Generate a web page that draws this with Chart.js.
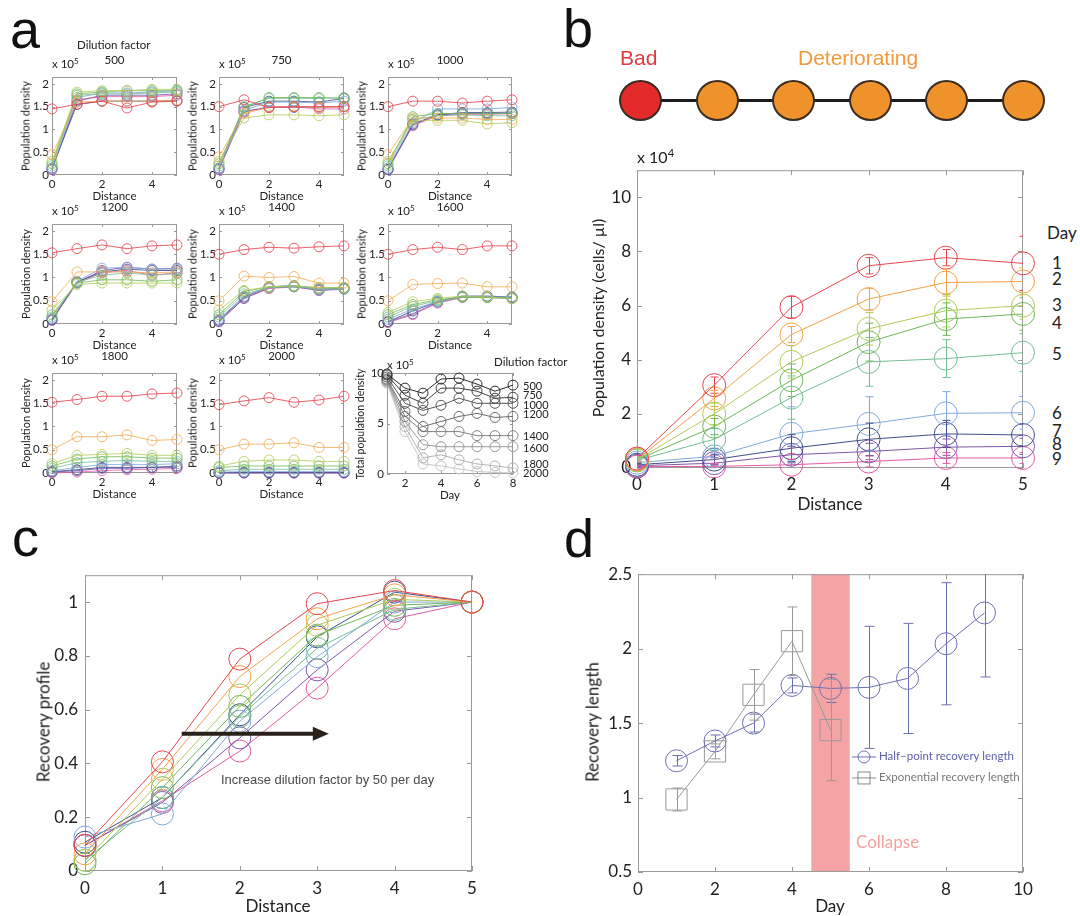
<!DOCTYPE html>
<html>
<head>
<meta charset="utf-8">
<script src="https://cdn.jsdelivr.net/npm/chart.js@4.4.1/dist/chart.umd.min.js"></script>
<style>
body{margin:0;background:#fff;width:1080px;height:916px;position:relative;overflow:hidden;font-family:Lato,sans-serif;color:#222}
canvas{position:absolute}
.t{position:absolute;white-space:nowrap;line-height:1}
.ctr{transform:translate(-50%,-50%)}
.lft{transform:translate(0,-50%)}
.rot{transform:translate(-50%,-50%) rotate(-90deg)}
.letter{font-family:"Liberation Sans",Arial,sans-serif;font-size:54px;color:#111}
sup{font-size:70%;vertical-align:0.55em;line-height:0}
.chain{position:absolute;left:619px;top:80px;width:426px;height:40px;display:flex;justify-content:space-between;align-items:center}
.chain:before{content:"";position:absolute;left:21px;right:21px;top:19px;height:3px;background:#1b1b1b}
.node{position:relative;width:39px;height:37px;border-radius:50%;border:2px solid #3a2c20;background:#f0922b}
.node.bad{background:#e32b2b}
</style>
</head>
<body>
<script>
// ---- data ----
const distance = [0, 1, 2, 3, 4, 5];
const dilutions = [500, 750, 1000, 1200, 1400, 1600, 1800, 2000];
const days = ['1', '2', '3', '4', '5', '6', '7', '8', '9'];
const dayColors = ['#e8454f', '#f3a246', '#b0cb58', '#6fb656', '#72bf96', '#82a8da', '#3f4d8e', '#7f57aa', '#e35aa6'];
const dayColorsA = ['rgba(232,69,79,0.85)', 'rgba(243,170,80,0.8)', 'rgba(176,203,88,0.8)', 'rgba(111,182,86,0.8)', 'rgba(114,191,150,0.8)', 'rgba(130,168,218,0.85)', 'rgba(63,77,142,0.85)', 'rgba(127,87,170,0.85)', 'rgba(227,90,166,0.8)'];

// panel a: population density (x 10^5), one row per day
const a500 = [
  [1.45, 1.55, 1.62, 1.47, 1.60, 1.62],
  [0.45, 1.60, 1.62, 1.62, 1.62, 1.65],
  [0.30, 1.82, 1.85, 1.85, 1.88, 1.88],
  [0.25, 1.78, 1.82, 1.85, 1.85, 1.85],
  [0.20, 1.75, 1.78, 1.78, 1.80, 1.82],
  [0.15, 1.70, 1.80, 1.80, 1.82, 1.85],
  [0.15, 1.55, 1.62, 1.62, 1.62, 1.63],
  [0.12, 1.62, 1.75, 1.75, 1.75, 1.78],
  [0.12, 1.65, 1.72, 1.72, 1.72, 1.75]
];
const a750 = [
  [1.50, 1.65, 1.48, 1.50, 1.50, 1.50],
  [0.40, 1.35, 1.48, 1.50, 1.48, 1.50],
  [0.30, 1.25, 1.32, 1.32, 1.30, 1.32],
  [0.25, 1.48, 1.70, 1.70, 1.70, 1.68],
  [0.20, 1.50, 1.68, 1.68, 1.68, 1.70],
  [0.15, 1.42, 1.60, 1.60, 1.58, 1.62],
  [0.15, 1.48, 1.62, 1.62, 1.60, 1.68],
  [0.12, 1.40, 1.48, 1.48, 1.48, 1.50],
  [0.12, 1.38, 1.50, 1.50, 1.45, 1.45]
];
const a1000 = [
  [1.50, 1.62, 1.62, 1.58, 1.62, 1.65],
  [0.45, 1.25, 1.25, 1.25, 1.22, 1.22],
  [0.30, 1.20, 1.20, 1.20, 1.12, 1.15],
  [0.25, 1.28, 1.35, 1.35, 1.35, 1.35],
  [0.20, 1.22, 1.30, 1.32, 1.30, 1.30],
  [0.15, 1.15, 1.45, 1.45, 1.45, 1.48],
  [0.12, 1.12, 1.32, 1.37, 1.37, 1.38],
  [0.12, 1.10, 1.32, 1.35, 1.35, 1.35],
  [0.12, 1.08, 1.30, 1.33, 1.33, 1.35]
];
const a1200 = [
  [1.53, 1.62, 1.70, 1.62, 1.68, 1.70],
  [0.48, 1.12, 1.12, 1.12, 1.10, 1.12],
  [0.30, 0.85, 0.88, 0.88, 0.88, 0.88],
  [0.20, 0.88, 0.95, 0.95, 0.92, 0.95],
  [0.15, 0.90, 1.05, 1.10, 1.05, 1.08],
  [0.12, 0.92, 1.20, 1.22, 1.18, 1.18],
  [0.10, 0.90, 1.12, 1.18, 1.15, 1.15],
  [0.08, 0.90, 1.15, 1.22, 1.18, 1.20],
  [0.08, 0.88, 1.10, 1.15, 1.05, 1.10]
];
const a1400 = [
  [1.50, 1.60, 1.65, 1.63, 1.66, 1.68],
  [0.50, 1.03, 1.00, 1.02, 0.88, 0.88],
  [0.30, 0.72, 0.80, 0.82, 0.78, 0.78],
  [0.20, 0.70, 0.80, 0.82, 0.78, 0.78],
  [0.15, 0.65, 0.78, 0.80, 0.75, 0.75],
  [0.10, 0.60, 0.80, 0.82, 0.75, 0.78],
  [0.08, 0.58, 0.80, 0.82, 0.75, 0.78],
  [0.05, 0.55, 0.78, 0.80, 0.72, 0.75],
  [0.05, 0.55, 0.76, 0.80, 0.73, 0.76]
];
const a1600 = [
  [1.50, 1.60, 1.65, 1.60, 1.68, 1.68],
  [0.50, 0.85, 0.87, 0.88, 0.80, 0.80],
  [0.25, 0.48, 0.55, 0.60, 0.58, 0.55],
  [0.20, 0.42, 0.52, 0.58, 0.57, 0.55],
  [0.15, 0.38, 0.50, 0.58, 0.57, 0.55],
  [0.10, 0.32, 0.48, 0.58, 0.58, 0.58],
  [0.05, 0.28, 0.48, 0.60, 0.60, 0.58],
  [0.05, 0.22, 0.47, 0.58, 0.58, 0.57],
  [0.03, 0.20, 0.45, 0.57, 0.57, 0.55]
];
const a1800 = [
  [1.52, 1.58, 1.65, 1.65, 1.70, 1.72],
  [0.50, 0.78, 0.78, 0.82, 0.70, 0.72],
  [0.20, 0.38, 0.40, 0.42, 0.38, 0.38],
  [0.15, 0.30, 0.35, 0.35, 0.32, 0.32],
  [0.10, 0.22, 0.25, 0.27, 0.25, 0.25],
  [0.05, 0.12, 0.18, 0.18, 0.18, 0.20],
  [0.03, 0.07, 0.12, 0.12, 0.12, 0.15],
  [0.02, 0.05, 0.10, 0.10, 0.12, 0.12],
  [0.00, 0.02, 0.05, 0.07, 0.08, 0.10]
];
const a2000 = [
  [1.47, 1.55, 1.62, 1.52, 1.57, 1.65],
  [0.50, 0.62, 0.62, 0.65, 0.55, 0.55],
  [0.15, 0.25, 0.28, 0.28, 0.25, 0.25],
  [0.12, 0.15, 0.15, 0.15, 0.15, 0.15],
  [0.05, 0.08, 0.08, 0.08, 0.08, 0.08],
  [0.02, 0.03, 0.03, 0.03, 0.03, 0.03],
  [0.01, 0.01, 0.01, 0.01, 0.01, 0.01],
  [0.00, 0.00, 0.00, 0.00, 0.00, 0.00],
  [0.00, 0.00, 0.00, 0.00, 0.00, 0.00]
];
const xTicksA = [0, 2, 4];
const yTicksA = [0, 0.5, 1, 1.5, 2];

// panel a, last plot: total population density (x 10^5) per dilution factor
const totalDays = [1, 2, 3, 4, 5, 6, 7, 8];
const totalDensity = [
  [9.9, 8.5, 8.0, 9.4, 9.5, 8.9, 8.2, 8.8],
  [9.8, 7.8, 7.0, 8.5, 8.5, 8.2, 7.5, 7.6],
  [9.6, 7.0, 6.3, 6.8, 7.5, 7.0, 7.0, 7.0],
  [9.4, 6.2, 4.7, 5.2, 5.7, 6.0, 5.6, 5.7],
  [9.3, 5.7, 4.2, 4.2, 4.2, 3.8, 3.8, 3.8],
  [9.2, 5.2, 2.9, 2.7, 2.7, 2.7, 2.7, 2.7],
  [9.1, 4.7, 1.6, 1.9, 1.4, 1.0, 0.8, 0.6],
  [9.0, 4.2, 1.0, 0.8, 0.5, 0.25, 0.15, 0.1]
];
const totalGrays = ['#2b2b2b', '#424242', '#575757', '#6c6c6c', '#838383', '#9a9a9a', '#b2b2b2', '#c8c8c8'];
const xTicksTotal = [2, 4, 6, 8];
const yTicksTotal = [0, 5, 10];

// panel b: population density (x 10^4 cells/ul) per day, with error bars
const bDensity = [
  [0.35, 3.06, 5.94, 7.47, 7.77, 7.56],
  [0.32, 2.57, 4.93, 6.24, 6.85, 6.89],
  [0.30, 2.00, 3.92, 5.14, 5.81, 6.00],
  [0.30, 1.53, 3.24, 4.65, 5.50, 5.69],
  [0.28, 1.06, 2.60, 3.92, 4.04, 4.26],
  [0.20, 0.43, 1.26, 1.63, 2.02, 2.04],
  [0.12, 0.31, 0.73, 1.06, 1.26, 1.22],
  [0.08, 0.18, 0.49, 0.61, 0.77, 0.80],
  [0.05, 0.06, 0.12, 0.24, 0.37, 0.37]
];
const bError = [
  [0.1, 0.3, 0.4, 0.3, 0.3, 1.0],
  [0.1, 0.3, 0.3, 0.4, 0.5, 0.5],
  [0.1, 0.4, 0.6, 0.6, 0.6, 0.5],
  [0.1, 0.3, 0.6, 0.7, 0.6, 0.6],
  [0.1, 0.4, 0.8, 0.9, 0.7, 0.7],
  [0.1, 0.3, 1.0, 1.0, 0.8, 0.6],
  [0.05, 0.2, 0.5, 0.6, 0.5, 0.4],
  [0.05, 0.2, 0.3, 0.3, 0.3, 0.3],
  [0.05, 0.1, 0.2, 0.2, 0.2, 0.2]
];
const xTicksB = [0, 1, 2, 3, 4, 5];
const yTicksB = [0, 2, 4, 6, 8, 10];

// panel c: recovery profile per day
const recovery = [
  [0.095, 0.406, 0.788, 0.994, 1.043, 1.0],
  [0.064, 0.378, 0.723, 0.938, 1.027, 1.0],
  [0.040, 0.341, 0.655, 0.914, 1.010, 1.0],
  [0.027, 0.310, 0.612, 0.877, 0.988, 1.0],
  [0.040, 0.273, 0.575, 0.828, 0.973, 1.0],
  [0.126, 0.212, 0.557, 0.797, 1.000, 1.0],
  [0.107, 0.273, 0.581, 0.871, 1.037, 1.0],
  [0.095, 0.255, 0.495, 0.748, 0.966, 1.0],
  [0.095, 0.261, 0.446, 0.680, 0.938, 1.0]
];
const yTicksC = [0, 0.2, 0.4, 0.6, 0.8, 1];
const arrowFrom = [1.25, 0.51];
const arrowTo = [3.15, 0.51];

// panel d: recovery length per day
const halfDays = [1, 2, 3, 4, 5, 6, 7, 8, 9];
const halfLength = [1.247, 1.38, 1.50, 1.753, 1.733, 1.74, 1.80, 2.033, 2.24];
const halfError = [0.035, 0.04, 0.06, 0.05, 0.095, 0.41, 0.37, 0.41, 0.43];
const expDays = [1, 2, 3, 4, 5];
const expLength = [0.987, 1.31, 1.69, 2.05, 1.453];
const expError = [0.077, 0.05, 0.17, 0.23, 0.34];
const collapseSpan = [4.5, 5.5];
const xTicksD = [0, 2, 4, 6, 8, 10];
const yTicksD = [0.5, 1, 1.5, 2, 2.5];

// ---- plugins ----
const boxPlugin = {
  id: 'mbox',
  beforeDatasetsDraw(chart, args, opts) {
    const {ctx, chartArea: a, scales} = chart;
    const tl = opts.tick || 4;
    ctx.save();
    ctx.strokeStyle = '#9a9a9a';
    ctx.lineWidth = 1;
    ctx.strokeRect(a.left + 0.5, a.top + 0.5, a.width - 1, a.height - 1);
    ctx.beginPath();
    scales.x.ticks.forEach(t => {
      const p = Math.round(scales.x.getPixelForValue(t.value)) + 0.5;
      ctx.moveTo(p, a.bottom); ctx.lineTo(p, a.bottom - tl);
      ctx.moveTo(p, a.top); ctx.lineTo(p, a.top + tl);
    });
    scales.y.ticks.forEach(t => {
      const p = Math.round(scales.y.getPixelForValue(t.value)) + 0.5;
      ctx.moveTo(a.left, p); ctx.lineTo(a.left + tl, p);
      ctx.moveTo(a.right, p); ctx.lineTo(a.right - tl, p);
    });
    ctx.stroke();
    ctx.restore();
  }
};

const errPlugin = {
  id: 'errbars',
  afterDatasetsDraw(chart, args, opts) {
    const {ctx, chartArea: a} = chart;
    const ys = chart.scales.y;
    const cap = opts.cap || 4;
    ctx.save();
    ctx.beginPath();
    ctx.rect(a.left, a.top, a.width, a.height);
    ctx.clip();
    chart.data.datasets.forEach((ds, i) => {
      if (!ds.errs) return;
      const meta = chart.getDatasetMeta(i);
      ctx.strokeStyle = ds.borderColor;
      ctx.lineWidth = 1;
      ctx.beginPath();
      meta.data.forEach((pt, j) => {
        const e = ds.errs[j];
        if (!e) return;
        const v = ds.data[j].y;
        const y1 = ys.getPixelForValue(v - e), y2 = ys.getPixelForValue(v + e);
        const x = Math.round(pt.x) + 0.5;
        ctx.moveTo(x, y1); ctx.lineTo(x, y2);
        ctx.moveTo(x - cap, y1); ctx.lineTo(x + cap, y1);
        ctx.moveTo(x - cap, y2); ctx.lineTo(x + cap, y2);
      });
      ctx.stroke();
    });
    ctx.restore();
  }
};

const arrowPlugin = {
  id: 'arrow',
  afterDatasetsDraw(chart, args, opts) {
    if (!opts || !opts.from) return;
    const {ctx, scales} = chart;
    const x1 = scales.x.getPixelForValue(opts.from[0]), y1 = scales.y.getPixelForValue(opts.from[1]);
    const x2 = scales.x.getPixelForValue(opts.to[0]), y2 = scales.y.getPixelForValue(opts.to[1]);
    ctx.save();
    ctx.strokeStyle = ctx.fillStyle = '#2a211b';
    ctx.lineWidth = 4;
    ctx.beginPath(); ctx.moveTo(x1, y1); ctx.lineTo(x2 - 14, y2); ctx.stroke();
    ctx.beginPath(); ctx.moveTo(x2, y2); ctx.lineTo(x2 - 16, y2 - 7); ctx.lineTo(x2 - 16, y2 + 7); ctx.closePath(); ctx.fill();
    ctx.restore();
  }
};

const bandPlugin = {
  id: 'band',
  beforeDatasetsDraw(chart, args, opts) {
    if (!opts || !opts.span) return;
    const {ctx, chartArea: a, scales} = chart;
    const x1 = scales.x.getPixelForValue(opts.span[0]), x2 = scales.x.getPixelForValue(opts.span[1]);
    ctx.save();
    ctx.fillStyle = '#f4a4a4';
    ctx.fillRect(x1, a.top, x2 - x1, a.height);
    ctx.restore();
  }
};

// ---- helpers ----
function series(xs, ys, color, r, style, errs) {
  return {
    data: xs.map((x, i) => ({x: x, y: ys[i]})),
    borderColor: color, backgroundColor: 'rgba(0,0,0,0)', borderWidth: 1,
    pointRadius: r, pointBorderWidth: 1, pointStyle: style || 'circle',
    pointBorderColor: color, pointBackgroundColor: 'rgba(0,0,0,0)',
    tension: 0, clip: false, errs: errs
  };
}

function axis(spec, dir, size) {
  return {
    type: 'linear', min: spec.min, max: spec.max,
    grid: {display: false, drawTicks: false}, border: {display: false},
    ticks: {
      font: {family: 'Lato', size: spec.font}, color: '#222', padding: spec.pad,
      maxRotation: 0, autoSkip: false, includeBounds: false,
      callback: v => String(+v.toFixed(2))
    },
    afterBuildTicks: s => { s.ticks = spec.ticks.map(v => ({value: v})); },
    afterFit: s => { if (dir === 'x') s.height = size; else s.width = size; }
  };
}

// box = [left, top, right, bottom] of the plot area; pad = [left, top, right, bottom]
function plot(box, pad, datasets, xs, ys, extra) {
  const c = document.createElement('canvas');
  const w = box[2] - box[0] + pad[0] + pad[2], h = box[3] - box[1] + pad[1] + pad[3];
  c.width = w; c.height = h;
  c.style.left = (box[0] - pad[0]) + 'px'; c.style.top = (box[1] - pad[1]) + 'px';
  c.style.width = w + 'px'; c.style.height = h + 'px';
  document.body.appendChild(c);
  return new Chart(c, {
    type: 'line',
    data: {datasets: datasets},
    options: {
      responsive: false, animation: false, devicePixelRatio: 1,
      layout: {padding: {left: 0, top: pad[1], right: pad[2], bottom: 0}},
      plugins: Object.assign({legend: {display: false}, tooltip: {enabled: false}}, extra || {}),
      scales: {x: axis(xs, 'x', pad[3]), y: axis(ys, 'y', pad[0])}
    },
    plugins: [bandPlugin, boxPlugin, errPlugin, arrowPlugin]
  });
}

function txt(html, x, y, css, cls) {
  const d = document.createElement('div');
  d.className = 't ' + (cls || 'ctr');
  d.innerHTML = html;
  d.style.left = x + 'px'; d.style.top = y + 'px';
  if (css) d.style.cssText += css;
  document.body.appendChild(d);
  return d;
}

// ---- panel a ----
const colsA = [[52, 177], [219, 344], [388, 512]];
const rowsA = [[77, 175], [224, 324], [373, 473]];
const subsA = [a500, a750, a1000, a1200, a1400, a1600, a1800, a2000];
const fA = 'font-size:11.5px;';
subsA.forEach((sub, k) => {
  const col = colsA[k % 3], row = rowsA[Math.floor(k / 3)];
  const box = [col[0], row[0], col[1], row[1]];
  plot(box, [30, 12, 12, 16],
    sub.map((vals, d) => series(distance, vals, dayColorsA[d], 5)),
    {min: 0, max: 5, ticks: xTicksA, font: 11.5, pad: 2},
    {min: 0, max: 2.15, ticks: yTicksA, font: 11.5, pad: 3},
    {mbox: {tick: 3}});
  const cx = (box[0] + box[2]) / 2, cy = (box[1] + box[3]) / 2;
  txt(String(dilutions[k]), cx, box[1] - 17, fA);
  txt('x 10<sup>5</sup>', box[0], box[1] - 13, fA, 'lft');
  txt('Distance', cx, box[3] + 21, fA);
  txt('Population density', box[0] - 27, cy, 'font-size:11px;', 'rot');
});
(function () {
  const box = [387, 373, 513, 474];
  plot(box, [30, 12, 12, 16],
    totalDensity.map((vals, k) => series(totalDays, vals, totalGrays[k], 5)),
    {min: 1, max: 8, ticks: xTicksTotal, font: 11.5, pad: 2},
    {min: 0, max: 10, ticks: yTicksTotal, font: 11.5, pad: 3},
    {mbox: {tick: 3}});
  txt('x 10<sup>5</sup>', box[0], box[1] - 8, fA, 'lft');
  txt('Day', (box[0] + box[2]) / 2, box[3] + 21, fA);
  txt('Total population density', box[0] - 27, (box[1] + box[3]) / 2, 'font-size:10.5px;', 'rot');
  txt('Dilution factor', 494, 362, fA, 'lft');
  const labelY = [385, 394, 404, 413, 435, 447, 463, 472];
  dilutions.forEach((d, k) => txt(String(d), 523, labelY[k], 'font-size:11px;', 'lft'));
})();
txt('a', 10, 2, '', 'letter');
txt('Dilution factor', 77, 45, fA, 'lft');

// ---- panel b ----
txt('b', 563, 1, '', 'letter');
txt('Bad', 620, 57, 'font-family:"Liberation Sans",Arial,sans-serif;font-size:21px;color:#e13b3f;', 'lft');
txt('Deteriorating', 798, 57, 'font-family:"Liberation Sans",Arial,sans-serif;font-size:21px;color:#f2993c;', 'lft');
(function () {
  const chain = document.createElement('div');
  chain.className = 'chain';
  for (let i = 0; i < 6; i++) {
    const n = document.createElement('div');
    n.className = 'node' + (i === 0 ? ' bad' : '');
    chain.appendChild(n);
  }
  document.body.appendChild(chain);
})();
(function () {
  const box = [637, 168, 1023, 468];
  plot(box, [40, 14, 24, 30],
    bDensity.map((vals, d) => series(distance, vals, dayColors[d], 11.5, 'circle', bError[d])),
    {min: 0, max: 5, ticks: xTicksB, font: 17, pad: 6},
    {min: 0, max: 11, ticks: yTicksB, font: 17, pad: 6},
    {mbox: {tick: 5}, errbars: {cap: 4}});
  txt('x 10<sup>4</sup>', 637, 157, 'font-size:16px;', 'lft');
  txt('Population density (cells/ µl)', 598, 318, 'font-size:16px;', 'rot');
  txt('Distance', 830, 503, 'font-size:17px;');
  txt('Day', 1047, 232, 'font-size:17px;', 'lft');
  const dayY = [262, 278, 304, 322, 353, 412, 430, 443, 458];
  days.forEach((d, k) => txt(d, 1052, dayY[k], 'font-size:17px;', 'lft'));
})();

// ---- panel c ----
txt('c', 12, 510, '', 'letter');
(function () {
  const box = [85, 572, 472, 871];
  plot(box, [40, 14, 24, 30],
    recovery.map((vals, d) => series(distance, vals, dayColors[d], 11)),
    {min: 0, max: 5, ticks: xTicksB, font: 17, pad: 7},
    {min: 0, max: 1.1, ticks: yTicksC, font: 17, pad: 7},
    {mbox: {tick: 5}, arrow: {from: arrowFrom, to: arrowTo}});
  txt('Recovery profile', 43, 722, 'font-size:17px;', 'rot');
  txt('Distance', 278, 905, 'font-size:17px;');
  txt('Increase dilution factor by 50 per day', 221, 779, 'font-family:"Liberation Sans",Arial,sans-serif;font-size:13px;color:#4a4a4a;', 'lft');
})();

// ---- panel d ----
txt('d', 564, 511, '', 'letter');
(function () {
  const box = [638, 572, 1023, 872];
  const half = series(halfDays, halfLength, '#6c70b0', 11, 'circle', halfError);
  const expo = series(expDays, expLength, '#9a9a9a', 15, 'rect', expError);
  plot(box, [40, 14, 24, 30], [half, expo],
    {min: 0, max: 10, ticks: xTicksD, font: 17, pad: 7},
    {min: 0.5, max: 2.5, ticks: yTicksD, font: 17, pad: 6},
    {mbox: {tick: 5}, errbars: {cap: 5}, band: {span: collapseSpan}});
  txt('Recovery length', 592, 722, 'font-size:17px;', 'rot');
  txt('Day', 830, 905, 'font-size:17px;');
  txt('Collapse', 856, 841, 'font-size:17px;color:#f4a0a0;', 'lft');
  txt('<svg width="24" height="14" style="vertical-align:middle"><line x1="0" y1="7" x2="24" y2="7" stroke="#6c70b0"/><circle cx="12" cy="7" r="6" fill="none" stroke="#6c70b0"/></svg> Half–point recovery length', 852, 757, 'font-size:11.5px;color:#5b5fa8;', 'lft');
  txt('<svg width="24" height="14" style="vertical-align:middle"><line x1="0" y1="7" x2="24" y2="7" stroke="#888"/><rect x="6" y="1" width="12" height="12" fill="none" stroke="#888"/></svg> Exponential recovery length', 852, 778, 'font-size:11.5px;color:#777;', 'lft');
})();
</script>
</body>
</html>
